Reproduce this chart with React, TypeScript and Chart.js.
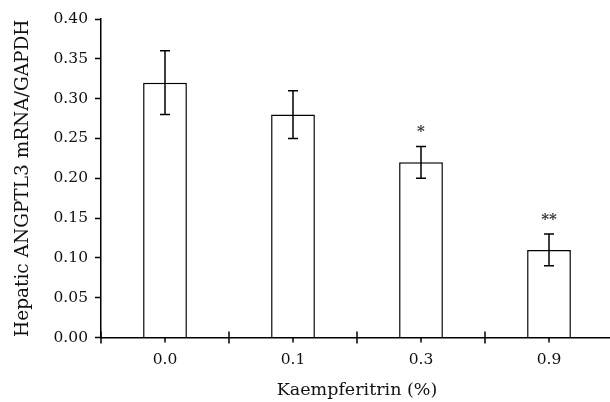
import React, { useEffect, useRef } from "react";
import { Chart, registerables } from "chart.js";

Chart.register(...registerables);

const categories = ["0.0", "0.1", "0.3", "0.9"];
const means = [0.32, 0.28, 0.22, 0.11];
const errUpper = [0.36, 0.31, 0.24, 0.13];
const errLower = [0.28, 0.25, 0.2, 0.09];
const significance = ["", "", "*", "**"];
const yMin = 0;
const yMax = 0.4;
const yStep = 0.05;
const xTitle = "Kaempferitrin (%)";
const yTitle = "Hepatic ANGPTL3 mRNA/GAPDH";

const INK = "#000000";
const TEXT = "#111111";
const FONT = "'DejaVu Serif', serif";

const overlayPlugin = {
  id: "overlay",
  afterDatasetsDraw(chart: any) {
    const ctx = chart.ctx;
    const x = chart.scales.x;
    const y = chart.scales.y;
    const meta = chart.getDatasetMeta(0);
    ctx.save();
    ctx.strokeStyle = INK;
    ctx.lineWidth = 1.5;
    // error bars
    meta.data.forEach((bar: any, i: number) => {
      const cx = bar.x;
      const yu = y.getPixelForValue(errUpper[i]);
      const yl = y.getPixelForValue(errLower[i]);
      ctx.beginPath();
      ctx.moveTo(cx, yu);
      ctx.lineTo(cx, yl);
      ctx.moveTo(cx - 5, yu);
      ctx.lineTo(cx + 5, yu);
      ctx.moveTo(cx - 5, yl);
      ctx.lineTo(cx + 5, yl);
      ctx.stroke();
      if (significance[i]) {
        ctx.fillStyle = "#333";
        ctx.font = `bold 15px ${FONT}`;
        ctx.textAlign = "center";
        ctx.textBaseline = "middle";
        ctx.fillText(significance[i], cx, yu - 14);
      }
    });
    // x axis ticks
    const axisY = y.getPixelForValue(yMin);
    ctx.beginPath();
    for (let i = 0; i <= categories.length; i++) {
      const bx = x.getPixelForValue(i - 0.5);
      ctx.moveTo(bx, axisY - 6);
      ctx.lineTo(bx, axisY + 6);
    }
    for (let i = 0; i < categories.length; i++) {
      const cx = x.getPixelForValue(i);
      ctx.moveTo(cx, axisY);
      ctx.lineTo(cx, axisY + 5);
    }
    // y axis extension below x axis
    ctx.moveTo(y.right, axisY);
    ctx.lineTo(y.right, axisY + 6);
    ctx.stroke();
    ctx.restore();
  },
};

export default function App() {
  const ref = useRef<HTMLCanvasElement | null>(null);
  useEffect(() => {
    if (!ref.current) return;
    const chart = new Chart(ref.current, {
      type: "bar",
      data: {
        labels: categories,
        datasets: [
          {
            data: means,
            backgroundColor: "#ffffff",
            borderColor: INK,
            borderWidth: 1.5,
            barPercentage: 0.342,
            categoryPercentage: 1,
          },
        ],
      },
      options: {
        animation: false,
        responsive: false,
        devicePixelRatio: 1,
        layout: { padding: { top: 19, left: 0, right: 0, bottom: 0 } },
        plugins: {
          legend: { display: false },
          tooltip: { enabled: false },
        },
        scales: {
          x: {
            offset: true,
            grid: { display: false },
            border: { display: true, color: INK, width: 1.5 },
            ticks: {
              color: TEXT,
              font: { family: FONT, size: 15.5 },
              padding: 5,
            },
            title: {
              display: true,
              text: xTitle,
              color: TEXT,
              font: { family: FONT, size: 17.5 },
              padding: { top: 0, bottom: 1 },
            },
            afterFit(scale: any) {
              scale.height = 64.5;
            },
          },
          y: {
            min: yMin,
            max: yMax,
            grid: {
              display: true,
              drawOnChartArea: false,
              drawTicks: true,
              tickLength: 6,
              tickWidth: 1.5,
              color: INK,
            },
            border: { display: true, color: INK, width: 1.5 },
            ticks: {
              stepSize: yStep,
              color: TEXT,
              font: { family: FONT, size: 15.5 },
              padding: 7,
              callback: (v: any) => Number(v).toFixed(2),
            },
            title: {
              display: true,
              text: yTitle,
              color: TEXT,
              font: { family: FONT, size: 18.5 },
              padding: { top: 12, bottom: 0 },
            },
            afterFit(scale: any) {
              scale.width = 101;
            },
          },
        },
      },
      plugins: [overlayPlugin],
    });
    return () => chart.destroy();
  }, []);
  return (
    <div
      style={{
        position: "fixed",
        left: 0,
        top: 0,
        width: 610,
        height: 402,
        overflow: "hidden",
        background: "#fff",
      }}
    >
      <canvas ref={ref} width={613} height={402} />
    </div>
  );
}
